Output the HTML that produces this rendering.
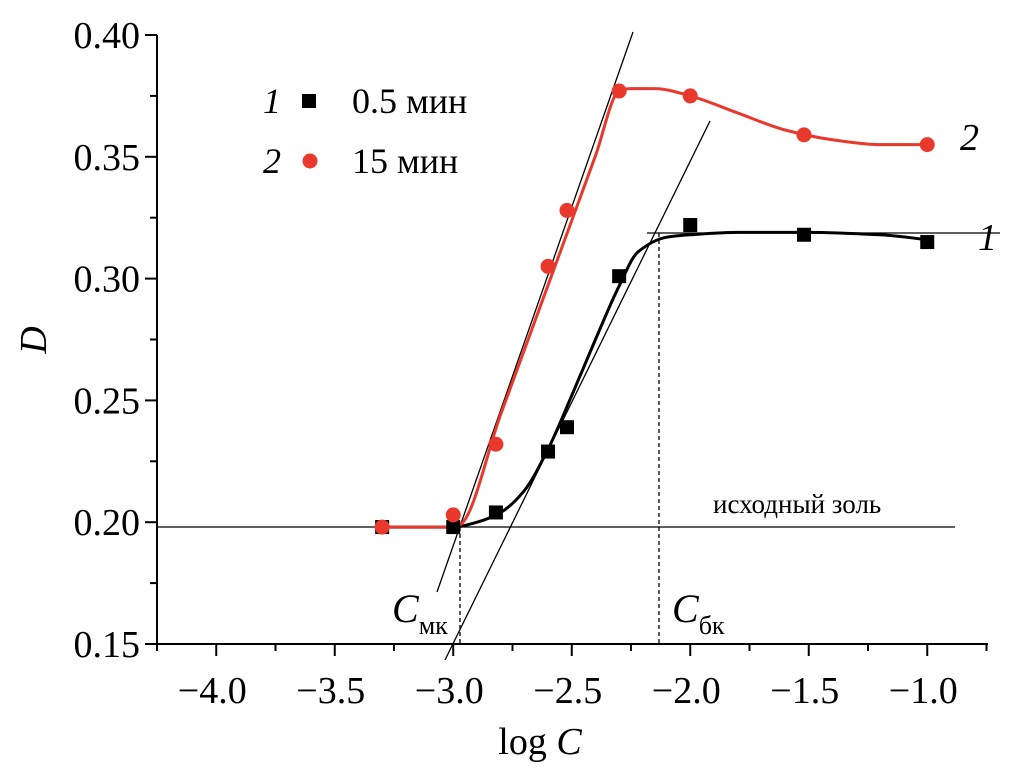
<!DOCTYPE html>
<html><head><meta charset="utf-8"><style>
body{margin:0;background:#fff}
svg text{font-family:"Liberation Serif",serif;fill:#000}
</style></head><body>
<svg width="1010" height="772" xmlns="http://www.w3.org/2000/svg">
<g id="axes"></g>
<g id="guides"></g>
<g id="series"></g>
<text x="540" y="754" font-size="38" text-anchor="middle">log <tspan font-style="italic">C</tspan></text>
<text transform="translate(46,340) rotate(-90)" font-size="38" font-style="italic" text-anchor="middle">D</text>
<g font-size="36">
<text x="263" y="113" font-style="italic">1</text>
<rect x="302" y="94" width="14" height="14" fill="#000"/>
<text x="352" y="113">0.5 мин</text>
<text x="263" y="173" font-style="italic">2</text>
<circle cx="310" cy="161" r="7.5" fill="#e8392c"/>
<text x="352" y="173">15 мин</text>
</g>
<text x="978" y="250" font-size="38" font-style="italic">1</text>
<text x="960" y="150" font-size="38" font-style="italic">2</text>
<text x="713" y="513" font-size="27">исходный золь</text>
<text x="392" y="622" font-size="40" font-style="italic">C<tspan font-style="normal" font-size="26" dy="12">мк</tspan></text>
<text x="672" y="622" font-size="40" font-style="italic">C<tspan font-style="normal" font-size="26" dy="12">бк</tspan></text>
</svg>
<script>
const xTicks=[-4.0,-3.5,-3.0,-2.5,-2.0,-1.5,-1.0];
const yTicks=[0.15,0.20,0.25,0.30,0.35,0.40];
const xCats=[-3.3,-3.0,-2.82,-2.6,-2.52,-2.3,-2.0,-1.52,-1.0];
const s1=[0.198,0.198,0.204,0.229,0.239,0.301,0.322,0.318,0.315];
const s2=[0.198,0.203,0.232,0.305,0.328,0.377,0.375,0.359,0.355];
const curve1X=[-3.3,-3.0,-2.9,-2.8,-2.7,-2.6,-2.5,-2.4,-2.3,-2.22,-2.1,-2.0,-1.8,-1.5,-1.2,-1.0];
const curve1Y=[0.198,0.198,0.2,0.204,0.213,0.23,0.252,0.275,0.297,0.311,0.317,0.318,0.319,0.319,0.318,0.316];
const curve2X=[-3.3,-3.1,-3.0,-2.97,-2.8,-2.6,-2.4,-2.3,-2.25,-2.15,-2.0,-1.8,-1.6,-1.4,-1.2,-1.1,-1.0];
const curve2Y=[0.198,0.198,0.198,0.199,0.2442,0.2973,0.3504,0.377,0.378,0.378,0.375,0.368,0.361,0.357,0.355,0.355,0.355];
const NS="http://www.w3.org/2000/svg";
const X=v=>157+(v+4.25)*237, Y=v=>644-(v-0.15)/0.05*121.8;
function mk(t,a,p){const e=document.createElementNS(NS,t);for(const k in a)e.setAttribute(k,a[k]);p.appendChild(e);return e;}
const ax=document.getElementById('axes'),gd=document.getElementById('guides'),sr=document.getElementById('series');
let l=mk('line',{x1:157,y1:644,x2:988,y2:644,stroke:'#000','stroke-width':2},ax);

l=mk('line',{x1:157,y1:35,x2:157,y2:645,stroke:'#000','stroke-width':2},ax);

for(let v=-4.25;v<=-0.74;v+=0.25){const maj=Math.abs(v*2-Math.round(v*2))<1e-6;mk('line',{x1:X(v),y1:644,x2:X(v),y2:644+(maj?12:7),stroke:'#000','stroke-width':2},ax);}
for(let v=0.15;v<=0.401;v+=0.025){const maj=Math.abs(v*20-Math.round(v*20))<1e-6;mk('line',{x1:157,y1:Y(v),x2:157-(maj?12:7),y2:Y(v),stroke:'#000','stroke-width':2},ax);}
xTicks.forEach(v=>{const t=mk('text',{x:X(v)-4,y:703,'font-size':38,'text-anchor':'middle'},ax);t.textContent='\u2212'+Math.abs(v).toFixed(1);
});
yTicks.forEach(v=>{const t=mk('text',{x:140,y:Y(v)+13,'font-size':38,'text-anchor':'end'},ax);t.textContent=v.toFixed(2);
});
[[437,592,633,32],[445,660,710,121],[157,527,955,527],[647,233,1000,233]].forEach(c=>{const g=mk('line',{x1:c[0],y1:c[1],x2:c[2],y2:c[3],stroke:'#000','stroke-width':1.3},gd);
});
[[460,527],[659,233]].forEach(c=>{const g=mk('line',{x1:c[0],y1:c[1],x2:c[0],y2:644,stroke:'#000','stroke-width':1.3,'stroke-dasharray':'4,3'},gd);
});
function smooth(xs,ys){
 const n=xs.length,px=xs.map(X),py=ys.map(Y),d=[],m=[];
 for(let i=0;i<n-1;i++)d.push((py[i+1]-py[i])/(px[i+1]-px[i]));
 m[0]=d[0];m[n-1]=d[n-2];
 for(let i=1;i<n-1;i++){m[i]=(d[i-1]*d[i]<=0)?0:2/(1/d[i-1]+1/d[i]);}
 let s='M'+px[0]+','+py[0];
 for(let i=0;i<n-1;i++){const h=(px[i+1]-px[i])/3;
  s+=' C'+(px[i]+h)+','+(py[i]+m[i]*h)+' '+(px[i+1]-h)+','+(py[i+1]-m[i+1]*h)+' '+px[i+1]+','+py[i+1];}
 return s;}
let c=mk('path',{d:smooth(curve1X,curve1Y),fill:'none',stroke:'#000','stroke-width':3},sr);

c=mk('path',{d:smooth(curve2X,curve2Y),fill:'none',stroke:'#e8392c','stroke-width':3},sr);

xCats.forEach((x,i)=>{const r=mk('rect',{x:X(x)-7,y:Y(s1[i])-7,width:14,height:14,fill:'#000'},sr);
});
xCats.forEach((x,i)=>{const r=mk('circle',{cx:X(x),cy:Y(s2[i]),r:7.5,fill:'#e8392c'},sr);
});
</script>
</body></html>
